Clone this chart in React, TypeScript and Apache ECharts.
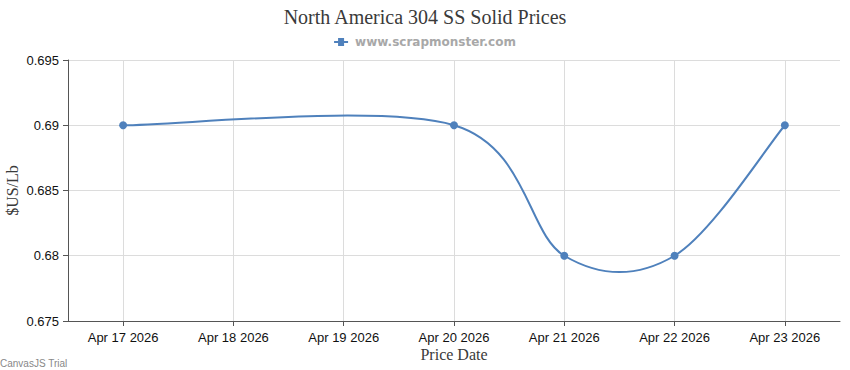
import React, { useEffect, useRef } from "react";
import * as echarts from "echarts";

const titleText = "North America 304 SS Solid Prices";
const legendName = "www.scrapmonster.com";
const monthLabel = "Apr";
const yearLabel = "2026";
const dayOfMonth = [17, 20, 21, 22, 23];
const prices = [0.69, 0.69, 0.68, 0.68, 0.69];
const yTicks = { min: 0.675, max: 0.695, step: 0.005 };
const xRange = { min: 16.5, max: 23.5 };

export default function App() {
  const ref = useRef<HTMLDivElement>(null);
  useEffect(() => {
    document.body.style.margin = "0";
    if (!ref.current) return;
    const chart = echarts.init(ref.current, null, { renderer: "svg" });
    const color = "#4f81bc";
    const seriesData = dayOfMonth.map((d, i) => [d, prices[i]]);
    chart.setOption({
      animation: false,
      backgroundColor: "#fff",
      color: [color],
      title: {
        text: titleText,
        left: "center",
        top: 2,
        textStyle: {
          fontFamily: "Liberation Serif",
          fontSize: 20,
          fontWeight: "normal",
          color: "#3a3a3a",
        },
      },
      legend: {
        top: 31,
        left: "center",
        itemWidth: 14,
        itemHeight: 8,
        itemGap: 6,
        icon: "path://M0,3 L4,3 L4,0 L10,0 L10,3 L14,3 L14,5 L10,5 L10,8 L4,8 L4,5 L0,5 Z",
        data: [legendName],
        itemStyle: { color },
        textStyle: {
          fontFamily: "DejaVu Sans",
          fontSize: 12,
          fontWeight: "bold",
          color: "#a8a8a8",
          padding: [0, 0, 0, 2],
        },
      },
      grid: { left: 68, right: 10, top: 60, bottom: 49, containLabel: false, outerBoundsMode: "none" },
      xAxis: {
        type: "value",
        min: xRange.min,
        max: xRange.max,
        name: "Price Date",
        nameLocation: "middle",
        nameGap: 25,
        nameMoveOverlap: false,
        nameTextStyle: { fontFamily: "Liberation Serif", fontSize: 16, color: "#3a3a3a" },
        axisLine: { lineStyle: { color: "#555", width: 1 } },
        axisTick: { show: true, length: 5, lineStyle: { color: "#555" } },
        splitLine: { show: true, showMinLine: false, showMaxLine: false, lineStyle: { color: "#dcdcdc" } },
        axisLabel: {
          showMinLabel: false,
          showMaxLabel: false,
          fontFamily: "Liberation Sans",
          fontSize: 13,
          color: "#111",
          margin: 10,
          formatter: (v: number) =>
            Number.isInteger(v) ? `${monthLabel} ${v} ${yearLabel}` : "",
        },
      },
      yAxis: {
        type: "value",
        min: yTicks.min,
        max: yTicks.max,
        interval: yTicks.step,
        name: "$US/Lb",
        nameLocation: "middle",
        nameGap: 48,
        nameRotate: 90,
        nameMoveOverlap: false,
        nameTextStyle: { fontFamily: "Liberation Serif", fontSize: 16, color: "#3a3a3a" },
        axisLine: { show: true, lineStyle: { color: "#555", width: 1 } },
        axisTick: { show: true, length: 5, lineStyle: { color: "#555" } },
        splitLine: { show: true, lineStyle: { color: "#dcdcdc" } },
        axisLabel: {
          fontFamily: "Liberation Sans",
          fontSize: 13,
          color: "#111",
          margin: 9,
          formatter: (v: number) => String(parseFloat(v.toFixed(4))),
        },
      },
      series: [
        {
          name: legendName,
          type: "custom",
          z: 1,
          silent: true,
          itemStyle: { color },
          data: seriesData,
          renderItem: (params: any, api: any) => {
            if (params.dataIndexInside !== 0) return null;
            const pts = seriesData.map((p) => api.coord(p));
            const children: any[] = [];
            for (let i = 1; i < pts.length; i++) {
              const a = i - 1;
              const a0 = Math.max(a - 1, 0);
              const a1 = Math.min(a + 1, pts.length - 1);
              const b = i;
              const b0 = Math.max(b - 1, 0);
              const b1 = Math.min(b + 1, pts.length - 1);
              const cp1 = [
                pts[a][0] + (pts[a1][0] - pts[a0][0]) / 6,
                pts[a][1] + (pts[a1][1] - pts[a0][1]) / 6,
              ];
              const cp2 = [
                pts[b][0] - (pts[b1][0] - pts[b0][0]) / 6,
                pts[b][1] - (pts[b1][1] - pts[b0][1]) / 6,
              ];
              children.push({
                type: "bezierCurve",
                shape: {
                  x1: pts[a][0], y1: pts[a][1],
                  cpx1: cp1[0], cpy1: cp1[1],
                  cpx2: cp2[0], cpy2: cp2[1],
                  x2: pts[b][0], y2: pts[b][1],
                },
                style: { stroke: color, lineWidth: 2, fill: null },
              });
            }
            return { type: "group", children };
          },
        },
        {
          name: legendName,
          type: "line",
          z: 3,
          data: seriesData,
          symbol: "circle",
          symbolSize: 8,
          itemStyle: { color },
          lineStyle: { color, width: 0, opacity: 0 },
        },
      ],
      graphic: [
        {
          type: "text",
          left: 0,
          top: 358,
          style: {
            text: "CanvasJS Trial",
            fontFamily: "Liberation Sans",
            fontSize: 10,
            fill: "#888",
          },
        },
      ],
    });
    return () => chart.dispose();
  }, []);
  return <div ref={ref} style={{ width: 850, height: 370 }} />;
}
